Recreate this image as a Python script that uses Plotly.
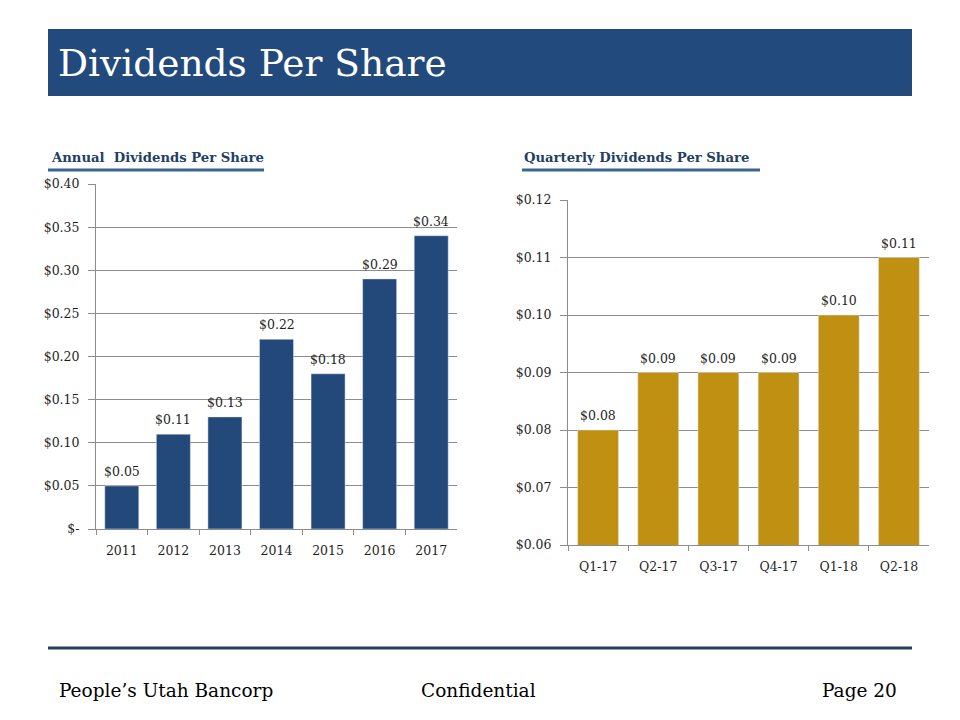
import plotly.graph_objects as go

years = ["2011", "2012", "2013", "2014", "2015", "2016", "2017"]
annual = [0.05, 0.11, 0.13, 0.22, 0.18, 0.29, 0.34]
annual_labels = ["$0.05", "$0.11", "$0.13", "$0.22", "$0.18", "$0.29", "$0.34"]
left_ticks = [0, 0.05, 0.10, 0.15, 0.20, 0.25, 0.30, 0.35, 0.40]
left_ticktext = ["$-", "$0.05", "$0.10", "$0.15", "$0.20", "$0.25", "$0.30", "$0.35", "$0.40"]

quarters = ["Q1-17", "Q2-17", "Q3-17", "Q4-17", "Q1-18", "Q2-18"]
quarterly = [0.08, 0.09, 0.09, 0.09, 0.10, 0.11]
quarterly_labels = ["$0.08", "$0.09", "$0.09", "$0.09", "$0.10", "$0.11"]
right_ticks = [0.06, 0.07, 0.08, 0.09, 0.10, 0.11, 0.12]
right_ticktext = ["$0.06", "$0.07", "$0.08", "$0.09", "$0.10", "$0.11", "$0.12"]

FONT = "DejaVu Serif"
BLUE = "#23497B"
GOLD = "#BF9012"
GRID = "#8C8C8C"
TXT = "#1F1F1F"

W, H = 960, 720


def fx(x):
    return x / W


def fy(y):
    return 1 - y / H


fig = go.Figure()
fig.add_trace(go.Bar(x=years, y=annual, marker_color=BLUE, xaxis="x", yaxis="y", width=0.66,
                     hoverinfo="x+y"))
fig.add_trace(go.Bar(x=quarters, y=quarterly, marker_color=GOLD, xaxis="x2", yaxis="y2",
                     width=0.68, hoverinfo="x+y"))

# value labels above bars (category axis positions given by index)
annotations = []
for i, (val, lab) in enumerate(zip(annual, annual_labels)):
    annotations.append(dict(x=i, y=val, xref="x", yref="y", text=lab, showarrow=False,
                            yanchor="bottom", yshift=5,
                            font=dict(family=FONT, size=12.5, color=TXT)))
for i, (val, lab) in enumerate(zip(quarterly, quarterly_labels)):
    annotations.append(dict(x=i, y=val, xref="x2", yref="y2", text=lab, showarrow=False,
                            yanchor="bottom", yshift=5,
                            font=dict(family=FONT, size=12.5, color=TXT)))

tickfont = dict(family=FONT, size=12.5, color=TXT)
xcommon = dict(type="category", showline=True, linecolor=GRID, linewidth=1, ticks="outside",
               tickcolor=GRID, ticklen=5, tickson="boundaries", tickfont=tickfont,
               ticklabelstandoff=10, tickangle=0)
ycommon = dict(showline=True, linecolor=GRID, linewidth=1, ticks="outside", tickcolor=GRID,
               ticklen=7, tickfont=tickfont, ticklabelstandoff=6, showgrid=True,
               gridcolor=GRID, gridwidth=1, zeroline=False)

fig.update_layout(
    width=W, height=H,
    margin=dict(l=0, r=0, t=0, b=0, autoexpand=False),
    paper_bgcolor="white", plot_bgcolor="white",
    showlegend=False,
    xaxis=dict(domain=[fx(96), fx(457)], anchor="y", range=[-0.5, len(years) - 0.5],
               **xcommon),
    yaxis=dict(domain=[fy(529), fy(184)], anchor="x", range=[0, 0.40],
               tickvals=left_ticks, ticktext=left_ticktext, **ycommon),
    xaxis2=dict(domain=[fx(568), fx(929)], anchor="y2", range=[-0.5, len(quarters) - 0.5],
                **xcommon),
    yaxis2=dict(domain=[fy(545), fy(200)], anchor="x2", range=[0.06, 0.12],
                tickvals=right_ticks, ticktext=right_ticktext, **ycommon),
    shapes=[
        dict(type="rect", xref="paper", yref="paper", x0=fx(48), x1=fx(912),
             y0=fy(96), y1=fy(29), fillcolor="#234A7C", line=dict(width=0), layer="below"),
        dict(type="line", xref="paper", yref="paper", x0=fx(48), x1=fx(264),
             y0=fy(170), y1=fy(170), line=dict(color="#3A6792", width=3)),
        dict(type="line", xref="paper", yref="paper", x0=fx(522), x1=fx(760),
             y0=fy(170), y1=fy(170), line=dict(color="#3A6792", width=3)),
        dict(type="line", xref="paper", yref="paper", x0=fx(48), x1=fx(912),
             y0=fy(648), y1=fy(648), line=dict(color="#23405F", width=3)),
    ],
    annotations=annotations + [
        dict(text="Dividends Per Share", xref="paper", yref="paper", x=fx(56), y=fy(63),
             xanchor="left", yanchor="middle", showarrow=False,
             font=dict(family=FONT, size=37.5, color="white")),
        dict(text="<b>Annual  Dividends Per Share</b>", xref="paper", yref="paper",
             x=fx(49), y=fy(157), xanchor="left", yanchor="middle", showarrow=False,
             font=dict(family=FONT, size=13.2, color="#1F3F66")),
        dict(text="<b>Quarterly Dividends Per Share</b>", xref="paper", yref="paper",
             x=fx(522), y=fy(157), xanchor="left", yanchor="middle", showarrow=False,
             font=dict(family=FONT, size=13.2, color="#1F3F66")),
        dict(text="People’s Utah Bancorp", xref="paper", yref="paper",
             x=fx(57), y=fy(690), xanchor="left", yanchor="middle", showarrow=False,
             font=dict(family=FONT, size=18.5, color="black")),
        dict(text="Confidential", xref="paper", yref="paper",
             x=fx(478), y=fy(690), xanchor="center", yanchor="middle", showarrow=False,
             font=dict(family=FONT, size=18.5, color="black")),
        dict(text="Page 20", xref="paper", yref="paper",
             x=fx(899), y=fy(690), xanchor="right", yanchor="middle", showarrow=False,
             font=dict(family=FONT, size=18.5, color="black")),
    ],
)

fig.write_html(
    "out.html",
    config={"displayModeBar": False},
    post_script="document.body.style.margin='0';document.body.style.overflow='hidden';",
)
